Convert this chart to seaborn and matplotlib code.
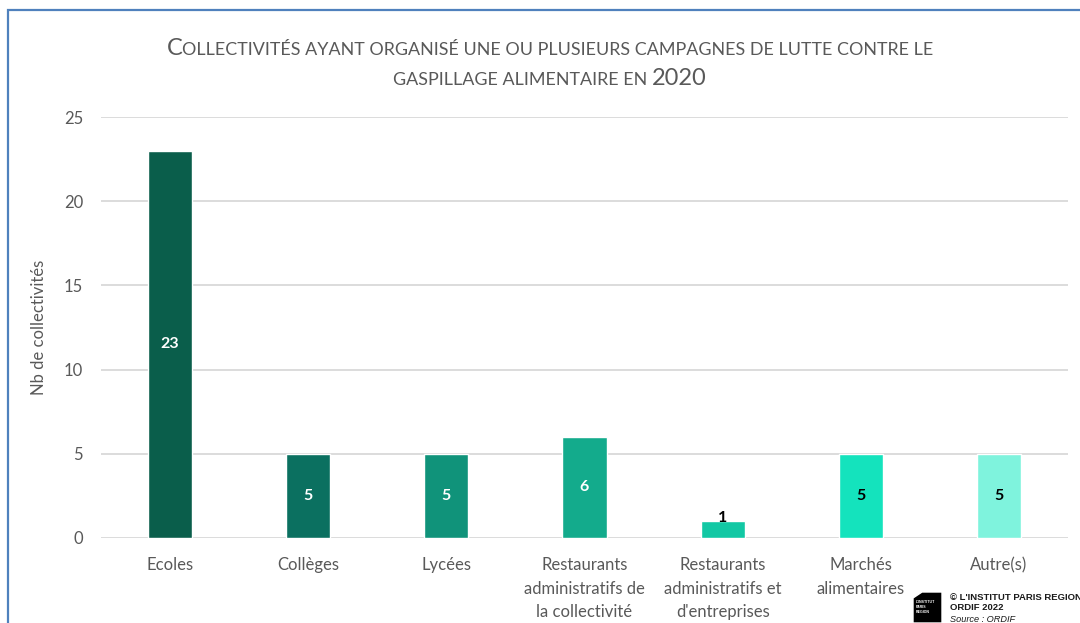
import matplotlib
matplotlib.use("Agg")
import matplotlib.pyplot as plt
import seaborn as sns
import pandas as pd
from matplotlib.patches import Rectangle, Polygon

categories = ["Ecoles", "Collèges", "Lycées",
              "Restaurants\nadministratifs de\nla collectivité",
              "Restaurants\nadministratifs et\nd'entreprises",
              "Marchés\nalimentaires", "Autre(s)"]
values = [23, 5, 5, 6, 1, 5, 5]
colors = ["#0a5e4b", "#0b7060", "#10937a", "#13ab8c", "#12c8a4", "#14e3bd", "#7ff3dd"]
label_colors = ["white", "white", "white", "white", "black", "black", "black"]
y_ticks = [0, 5, 10, 15, 20, 25]

title_lines = [
    [("C", 17), ("OLLECTIVITÉS AYANT ORGANISÉ UNE OU PLUSIEURS CAMPAGNES DE LUTTE CONTRE LE", 12.9)],
    [("GASPILLAGE ALIMENTAIRE EN ", 12.9), ("2020", 17)],
]

sns.set_theme(style="white")
plt.rcParams["font.family"] = ["Lato", "DejaVu Sans"]

df = pd.DataFrame({"cat": categories, "val": values})

W, H = 1080, 623
fig = plt.figure(figsize=(W / 100, H / 100), dpi=100)
ax = fig.add_axes([101 / W, (H - 538) / H, (1068 - 101) / W, (538 - 117) / H])

sns.barplot(data=df, x="cat", y="val", hue="cat", palette=colors, width=0.32,
            legend=False, ax=ax, saturation=1, zorder=3)

ax.set_ylim(0, 25)
ax.set_yticks(y_ticks)
ax.yaxis.grid(True, color="#d9d9d9", linewidth=1.3, zorder=0)
ax.set_axisbelow(True)
for s in ax.spines.values():
    s.set_visible(False)
ax.tick_params(axis="both", length=0, colors="#595959", labelsize=12)
ax.tick_params(axis="y", pad=13)
ax.tick_params(axis="x", pad=14)
ax.set_xlabel("")
ax.set_ylabel("Nb de collectivités", fontsize=12, color="#595959", labelpad=12)
for lab in ax.get_xticklabels():
    lab.set_linespacing(1.55)

for i, (v, c) in enumerate(zip(values, label_colors)):
    y = v / 2 if v > 2 else v * 1.2
    ax.text(i, y, str(v), ha="center", va="center", color=c,
            fontsize=11.5, fontweight="bold", zorder=4)

# title in small caps, built piece by piece
fig.canvas.draw()
renderer = fig.canvas.get_renderer()
for line, ypix in zip(title_lines, [55, 85]):
    texts = []
    for s, fs in line:
        t = fig.text(0, 1 - ypix / H, s, fontsize=fs, color="#595959",
                     va="baseline", ha="left")
        texts.append(t)
    widths = [t.get_window_extent(renderer).width for t in texts]
    x = 550 - sum(widths) / 2
    for t, w in zip(texts, widths):
        t.set_x(x / W)
        x += w

# frame
fig.patches.append(Rectangle((8 / W, -0.05), 1.2, (H - 10) / H + 0.05,
                             transform=fig.transFigure, fill=False,
                             edgecolor="#4f81bd", linewidth=1.6))

# logo
logo = [(913, 598), (922, 592), (942, 592), (942, 623), (913, 623)]
fig.patches.append(Polygon([(x / W, 1 - y / H) for x, y in logo], closed=True,
                           transform=fig.transFigure, facecolor="black"))
for k, s in enumerate(["L'INSTITUT", "PARIS", "REGION"]):
    fig.text(916 / W, 1 - (603 + k * 5) / H, s, fontsize=2.5, color="white",
             fontweight="bold", family="Liberation Sans")
fig.text(950 / W, 1 - 597 / H, "© L'INSTITUT PARIS REGION", fontsize=6.8,
         fontweight="bold", family="Liberation Sans", va="center", color="#1a1a1a")
fig.text(950 / W, 1 - 608 / H, "ORDIF 2022", fontsize=6.8,
         fontweight="bold", family="Liberation Sans", va="center", color="#1a1a1a")
fig.text(950 / W, 1 - 619 / H, "Source : ORDIF", fontsize=6.6,
         style="italic", family="Liberation Sans", va="center", color="#1a1a1a")

fig.savefig("out.png", dpi=100)
